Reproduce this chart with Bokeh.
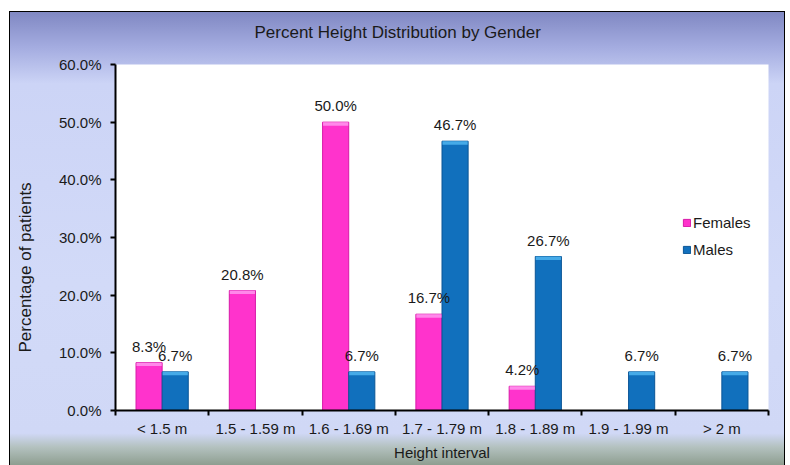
from bokeh.plotting import figure
from bokeh.models import (Range1d, FixedTicker, NumeralTickFormatter,
                          CustomJSTickFormatter, Legend, LegendItem, ColumnDataSource, Title)
from bokeh.transform import dodge
from bokeh.embed import file_html
from bokeh.resources import INLINE
from bokeh.core.properties import value

# ---- data ----
categories = ["< 1.5 m", "1.5 - 1.59 m", "1.6 - 1.69 m", "1.7 - 1.79 m",
              "1.8 - 1.89 m", "1.9 - 1.99 m", "> 2 m"]
females = [8.3, 20.8, 50.0, 16.7, 4.2, 0.0, 0.0]
males = [6.7, 0.0, 6.7, 46.7, 26.7, 6.7, 6.7]
series_names = ["Females", "Males"]
y_ticks = [0.0, 0.1, 0.2, 0.3, 0.4, 0.5, 0.6]

FONT = "Liberation Sans"
TXT = "#1a1a1a"

n = len(categories)
centers = [i + 0.5 for i in range(n)]
bevel = 0.006

def lab(v):
    return f"{v:.1f}%" if v > 0 else ""

src = ColumnDataSource(dict(
    x=centers,
    f=[v / 100 for v in females],
    m=[v / 100 for v in males],
    fb=[max(v / 100 - bevel, 0) for v in females],
    mb=[max(v / 100 - bevel, 0) for v in males],
    flab=[lab(v) for v in females],
    mlab=[lab(v) for v in males],
))

p = figure(width=776, height=454, output_backend="svg", toolbar_location=None,
           x_range=Range1d(0, n), y_range=Range1d(y_ticks[0], y_ticks[-1]),
           min_border_left=106, min_border_right=17, min_border_top=53,
           min_border_bottom=55)
p.margin = (11, 0, 0, 9)
p.styles = {
    "background": "linear-gradient(to bottom, #7f87c2 0%, #a4ace0 8%, #ccd4f6 16%, "
                  "#d2daf8 60%, #d0d8f6 93%, #b4c2c0 96%, #8e9e90 100%)",
    "box-shadow": "inset 1px 1px 0 #000, inset -1px 0 0 #000",
}
p.border_fill_alpha = 0
p.background_fill_color = "white"
p.outline_line_color = None
p.xgrid.visible = False
p.ygrid.visible = False

# spacer between frame and title
p.add_layout(Title(text=" ", text_font=FONT, text_font_size="17px", standoff=0), "above")
p.title = Title(text="Percent Height Distribution by Gender", align="left", offset=139,
                text_font=FONT, text_font_size="17px", text_font_style="normal",
                text_color=TXT, standoff=0, vertical_align="top")

w = 0.28
off = 0.14
rf = p.vbar(x=dodge("x", -off), top="f", bottom=0, width=w, source=src,
            fill_color="#ff33cc", line_color="#d81aa8", line_width=1)
rm = p.vbar(x=dodge("x", off), top="m", bottom=0, width=w, source=src,
            fill_color="#1170bd", line_color="#0b5596", line_width=1)
p.vbar(x=dodge("x", -off), top="f", bottom="fb", width=w - 0.01, source=src,
       fill_color="#ff88ea", line_color=None)
p.vbar(x=dodge("x", off), top="m", bottom="mb", width=w - 0.01, source=src,
       fill_color="#45aae8", line_color=None)

for col, lcol, dx in (("f", "flab", -off), ("m", "mlab", off)):
    p.text(x=dodge("x", dx), y=col, text=lcol, source=src, text_align="center",
           text_baseline="bottom", y_offset=-8, text_font=value(FONT),
           text_font_size="15px", text_color=TXT)

# x axis
xa = p.xaxis[0]
xa.ticker = FixedTicker(ticks=centers, minor_ticks=list(range(n + 1)))
xa.formatter = CustomJSTickFormatter(args=dict(labels=categories),
                                     code="return labels[Math.floor(tick)] || '';")
xa.major_tick_out = 0
xa.major_tick_in = 0
xa.minor_tick_out = 5
xa.minor_tick_in = 0
xa.minor_tick_line_color = "black"
xa.minor_tick_line_width = 2
xa.axis_line_color = "black"
xa.axis_line_width = 2
xa.major_label_standoff = 4
xa.major_label_text_font = FONT
xa.major_label_text_font_size = "15px"
xa.major_label_text_color = TXT
xa.axis_label = "Height interval"
xa.axis_label_text_font = FONT
xa.axis_label_text_font_size = "15px"
xa.axis_label_text_font_style = "normal"
xa.axis_label_text_color = TXT
xa.axis_label_standoff = 4

ya = p.yaxis[0]
ya.ticker = FixedTicker(ticks=y_ticks, minor_ticks=[])
ya.formatter = NumeralTickFormatter(format="0.0%")
ya.major_tick_out = 5
ya.major_tick_in = 0
ya.major_tick_line_width = 2
ya.minor_tick_line_color = None
ya.axis_line_color = "black"
ya.axis_line_width = 2
ya.major_label_standoff = 9
ya.major_label_text_font = FONT
ya.major_label_text_font_size = "15px"
ya.major_label_text_color = TXT

# spacer between y axis and its title
p.add_layout(Title(text=" ", text_font=FONT, text_font_size="15px", standoff=0), "left")
ytitle = Title(text="Percentage of patients", align="left", offset=58,
               text_font=FONT, text_font_size="17px", text_font_style="normal",
               text_color=TXT, standoff=4)
p.add_layout(ytitle, "left")

legend = Legend(items=[LegendItem(label=series_names[0], renderers=[rf]),
                       LegendItem(label=series_names[1], renderers=[rm])],
                location=(567, 152), glyph_width=9, glyph_height=9,
                label_text_font=FONT, label_text_font_size="15px",
                label_text_color=TXT, label_height=14, spacing=10, padding=0,
                margin=0, border_line_color=None, background_fill_alpha=0,
                label_standoff=2)
p.add_layout(legend)

open("out.html", "w").write(file_html(p, INLINE))
